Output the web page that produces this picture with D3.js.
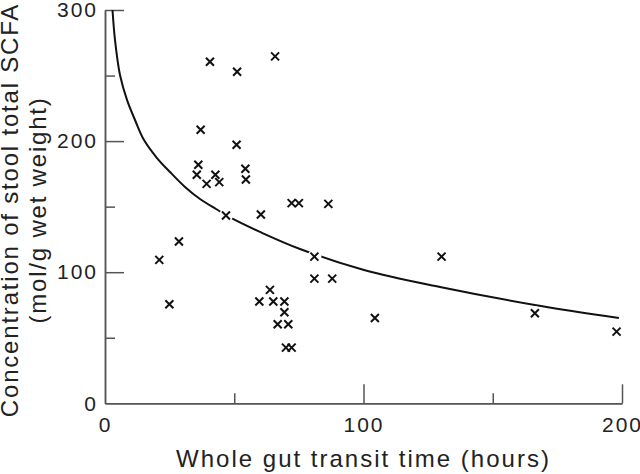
<!DOCTYPE html>
<html>
<head>
<meta charset="utf-8">
<script src="https://cdn.jsdelivr.net/npm/d3@7"></script>
<style>
  body { margin: 0; background: #fff; }
  svg { display: block; }
</style>
</head>
<body>
<svg id="chart"></svg>
<script>
// transit time (hours) vs total SCFA, one value per subject
const transitHours = [40.6, 51.1, 65.8, 37.0, 50.9, 36.1, 35.5, 42.7, 39.3, 44.2,
  54.3, 54.5, 46.8, 60.3, 72.2, 75.0, 86.4, 28.6, 21.0, 24.9,
  81.0, 81.0, 87.9, 63.8, 59.7, 65.1, 69.4, 69.4, 66.8, 70.9,
  70.0, 72.2, 130.2, 166.3, 197.9, 104.4];
const scfa = [260.5, 252.9, 264.6, 208.6, 197.2, 181.9, 174.3, 174.3, 167.4, 168.7,
  178.9, 170.7, 143.2, 144.0, 152.7, 152.7, 152.1, 123.4, 109.4, 75.6,
  111.9, 95.1, 95.1, 86.5, 77.6, 77.6, 77.6, 69.5, 60.3, 60.3,
  42.5, 42.5, 111.9, 68.7, 54.7, 65.1];

// fitted curve, points
const curveHours = [2.9, 3.87, 5.8, 8.51, 11.61, 15.09, 20.12, 25.15, 30.95, 36.75,
  42.94, 49.52, 59.96, 75.44, 100.2, 129.6, 166.3, 198.8];
const curveScfa = [300, 277.1, 250.4, 231.4, 216.1, 200.8, 187.1, 176.4, 165.0, 155.8,
  148.2, 140.6, 130.7, 117.7, 101.7, 88.7, 75.0, 65.1];

const xTicks = [0, 100, 200];
const xMinorTicks = [50, 150];
const yTicks = [0, 100, 200, 300];
const yMinorTicks = [50, 150, 250];

const width = 640;
const height = 474;
const marginLeft = 105;
const marginRight = 18;
const marginTop = 10;
const marginBottom = 70.7;

const svg = d3.select("#chart")
  .attr("width", width)
  .attr("height", height)
  .attr("viewBox", [0, 0, width, height]);

const x = d3.scaleLinear().domain([0, 200]).range([marginLeft, width - marginRight]);
const y = d3.scaleLinear().domain([0, 300]).range([height - marginBottom, marginTop]);

const axisColor = "#555";
const textColor = "#222";
const fontFamily = "'Liberation Sans', Arial, Helvetica, sans-serif";

const styleAxis = (g) => {
  g.selectAll(".domain").attr("stroke", axisColor).attr("stroke-width", 1.5);
  g.selectAll(".tick line").attr("stroke", axisColor).attr("stroke-width", 1.5);
  g.selectAll(".tick text")
    .attr("fill", textColor)
    .attr("font-family", fontFamily)
    .attr("font-size", 21)
    .attr("letter-spacing", 2);
};

// y axis: ticks point inwards
svg.append("g")
  .attr("transform", `translate(${marginLeft},0)`)
  .call(d3.axisLeft(y).tickValues(yMinorTicks).tickSize(-10).tickSizeOuter(0).tickFormat(""))
  .call(styleAxis);
svg.append("g")
  .attr("transform", `translate(${marginLeft},0)`)
  .call(d3.axisLeft(y).tickValues(yTicks).tickSize(-19).tickSizeOuter(0).tickPadding(7))
  .call(styleAxis)
  .call((g) => g.selectAll(".tick").filter((d) => d === 0).select("line").remove());

// x axis
svg.append("g")
  .attr("transform", `translate(0,${y(0)})`)
  .call(d3.axisBottom(x).tickValues(xMinorTicks).tickSize(-10).tickSizeOuter(0).tickFormat(""))
  .call(styleAxis);
svg.append("g")
  .attr("transform", `translate(0,${y(0)})`)
  .call(d3.axisBottom(x).tickValues(xTicks).tickSize(-19).tickSizeOuter(0).tickPadding(14))
  .call(styleAxis)
  .call((g) => g.selectAll(".tick").filter((d) => d === 0).select("line").remove());

// curve
const curvePts = curveHours.map((h, i) => [h, curveScfa[i]]);
svg.append("path")
  .datum(curvePts)
  .attr("fill", "none")
  .attr("stroke", "#111")
  .attr("stroke-width", 2)
  .attr("d", d3.line().x((d) => x(d[0])).y((d) => y(d[1])).curve(d3.curveCatmullRom.alpha(0.5)));

// points: white knock-out under each cross, then the crosses
const pts = transitHours.map((h, i) => ({ h, v: scfa[i] }));
svg.append("g")
  .selectAll("circle")
  .data(pts)
  .join("circle")
  .attr("cx", (d) => x(d.h))
  .attr("cy", (d) => y(d.v))
  .attr("r", 7)
  .attr("fill", "#fff");

const s = 4;
svg.append("g")
  .selectAll("path")
  .data(pts)
  .join("path")
  .attr("transform", (d) => `translate(${x(d.h)},${y(d.v)})`)
  .attr("d", `M${-s},${-s}L${s},${s}M${-s},${s}L${s},${-s}`)
  .attr("stroke", "#111")
  .attr("stroke-width", 2)
  .attr("fill", "none");

// axis titles
svg.append("text")
  .attr("x", (marginLeft + width - marginRight) / 2)
  .attr("y", 466.7)
  .attr("text-anchor", "middle")
  .attr("font-family", fontFamily)
  .attr("font-size", 24)
  .attr("letter-spacing", 2)
  .attr("fill", textColor)
  .text("Whole gut transit time (hours)");

const yTitle = svg.append("text")
  .attr("transform", "translate(0,210) rotate(-90)")
  .attr("text-anchor", "middle")
  .attr("font-family", fontFamily)
  .attr("font-size", 24)
  .attr("letter-spacing", 1.8)
  .attr("fill", textColor);
yTitle.append("tspan").attr("x", 0).attr("y", 18.3).text("Concentration of stool total SCFA");
yTitle.append("tspan").attr("x", 0).attr("y", 45.5).text("(mol/g wet weight)");
</script>
</body>
</html>
